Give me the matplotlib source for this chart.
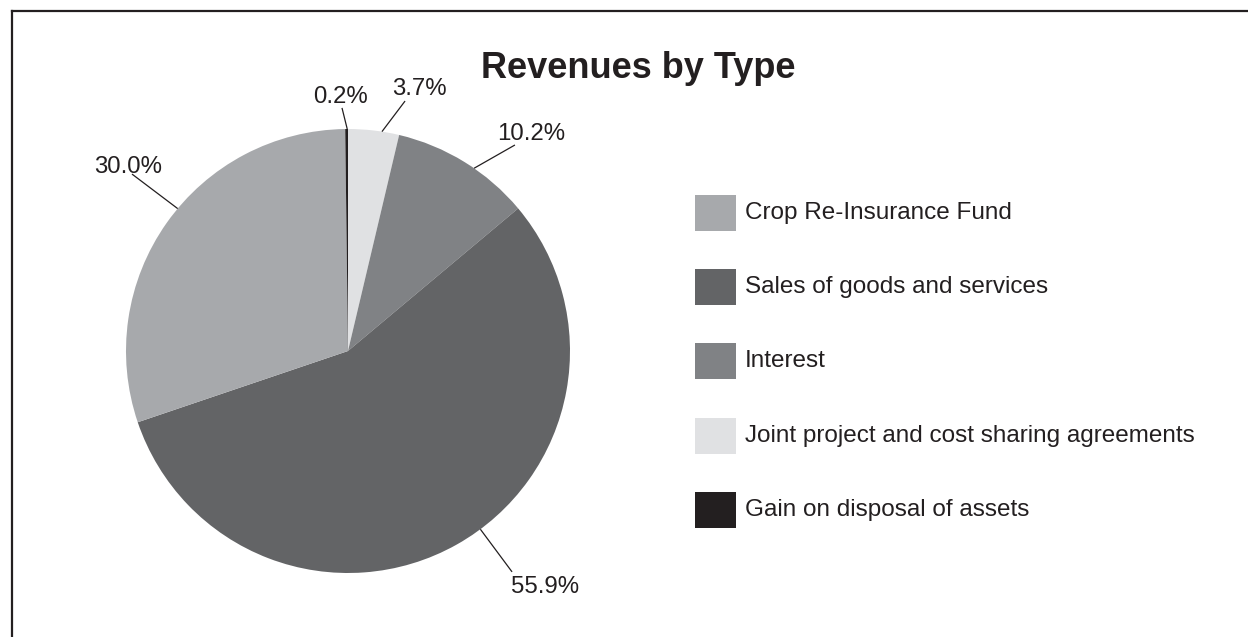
import matplotlib
matplotlib.use("Agg")
import matplotlib.pyplot as plt
import numpy as np
from matplotlib.patches import Rectangle
from matplotlib.lines import Line2D

plt.rcParams['font.family'] = ['Liberation Sans', 'DejaVu Sans']

# Revenue shares (percent), in drawing order clockwise from 12 o'clock
categories = ["Joint project and cost sharing agreements", "Interest",
              "Sales of goods and services", "Crop Re-Insurance Fund",
              "Gain on disposal of assets"]
shares = [3.7, 10.2, 55.9, 30.0, 0.2]
colors = ["#e0e1e3", "#808285", "#636466", "#a7a9ac", "#231f20"]

# Legend order
legend_order = ["Crop Re-Insurance Fund", "Sales of goods and services", "Interest",
                "Joint project and cost sharing agreements", "Gain on disposal of assets"]

title = "Revenues by Type"
text_color = "#231f20"

W, H = 1248, 637
fig = plt.figure(figsize=(W / 100, H / 100), dpi=100)
fig.patch.set_facecolor("white")

# pie axes: centre (348, 351) px, radius 222 px
cx, cy, r = 348, 351, 222
ax = fig.add_axes([(cx - r) / W, (H - cy - r) / H, 2 * r / W, 2 * r / H])

wedges, _ = ax.pie(shares, colors=colors, startangle=90, counterclock=False,
                   radius=1, wedgeprops=dict(linewidth=0))
ax.set_xlim(-1, 1)
ax.set_ylim(-1, 1)
ax.set_aspect("equal")
ax.axis("off")

# label leader lines: start angle on the rim, elbow point and text centre (radius units)
leader_angles = [81.2, 55.4, -53.4, 140.1, 90.2]
leader_ends = [(0.257, 1.126), (0.752, 0.928), (0.739, -0.995), (-0.973, 0.797), (-0.027, 1.095)]
label_pos = [(0.324, 1.178), (0.824, 0.979), (0.887, -1.061), (-0.99, 0.831), (-0.036, 1.146)]

for val, ang, end, pos in zip(shares, leader_angles, leader_ends, label_pos):
    a = np.deg2rad(ang)
    ax.plot([np.cos(a), end[0]], [np.sin(a), end[1]], color=text_color, lw=0.9,
            clip_on=False, solid_capstyle="butt")
    ax.text(pos[0], pos[1], f"{val:.1f}%", ha="center", va="center",
            fontsize=17.3, color=text_color, clip_on=False)

# title
fig.text(638 / W, 1 - 78 / H, title, ha="center", va="baseline",
         fontsize=26, fontweight="bold", color=text_color)

# legend drawn as swatches with labels
color_of = dict(zip(categories, colors))
for i, name in enumerate(legend_order):
    yc = 213 + i * 74.2
    fig.patches.append(Rectangle((695 / W, 1 - (yc + 18) / H), 41 / W, 36 / H,
                                 transform=fig.transFigure, facecolor=color_of[name],
                                 edgecolor="none"))
    fig.text(745 / W, 1 - yc / H, name, ha="left", va="center",
             fontsize=17.5, color=text_color)

# outer frame (top and left edges)
fig.lines.append(Line2D([11.5 / W, 1.0], [1 - 11 / H, 1 - 11 / H], transform=fig.transFigure,
                        color="#231f20", lw=1.6))
fig.lines.append(Line2D([11.5 / W, 11.5 / W], [0.0, 1 - 11 / H], transform=fig.transFigure,
                        color="#231f20", lw=1.6))

fig.savefig("out.png", dpi=100, facecolor="white")
